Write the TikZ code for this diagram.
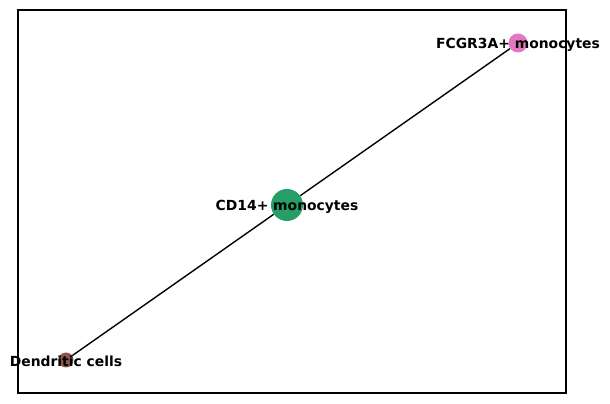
\documentclass[tikz,border=0pt]{standalone}
\usepackage{fontspec}
\setmainfont{DejaVu Sans}
\definecolor{cdgreen}{HTML}{279E68}
\definecolor{fcpink}{HTML}{E377C2}
\definecolor{dcbrown}{HTML}{8C564B}
\begin{document}
\begin{tikzpicture}[x=0.72pt,y=-0.72pt,
  cluster/.style={circle,inner sep=0pt,draw=none},
  tag/.style={font=\bfseries\fontsize{10}{12}\selectfont,inner sep=0pt,yshift=-1.2pt},
  link/.style={line width=1pt,black}]
  \useasboundingbox (0,0) rectangle (610,404);
  \draw[line width=0.8pt] (18,10) rectangle (566,393);
  % clusters
  \node[cluster,fill=cdgreen,minimum size=32*0.72pt] (cd14) at (287,205) {};
  \node[cluster,fill=fcpink,minimum size=19*0.72pt] (fcgr) at (518,43) {};
  \node[cluster,fill=dcbrown,minimum size=15*0.72pt] (dc) at (66,360) {};
  % edges
  \draw[link] (cd14) -- (fcgr);
  \draw[link] (cd14) -- (dc);
  % labels
  \node[tag] (cd14tag) at (cd14) {CD14+ monocytes};
  \node[tag] (fcgrtag) at (fcgr) {FCGR3A+ monocytes};
  \node[tag] (dctag) at (dc) {Dendritic cells};
\end{tikzpicture}
\end{document}
